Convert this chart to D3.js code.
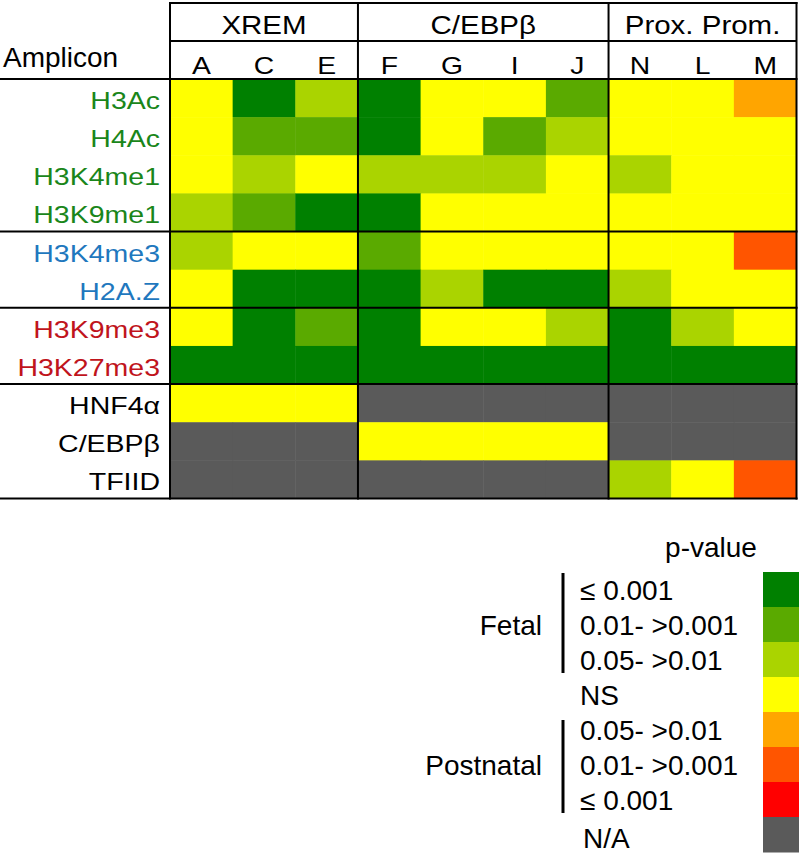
<!DOCTYPE html>
<html>
<head>
<meta charset="utf-8">
<script src="https://cdn.jsdelivr.net/npm/d3@7"></script>
<style>
  html, body { margin: 0; padding: 0; background: #fff; }
  svg { display: block; font-family: "Liberation Sans", Arial, Helvetica, sans-serif; }
</style>
</head>
<body>
<svg id="chart" width="799" height="854"></svg>
<script>
// ---------- data ----------
const columns = ["A", "C", "E", "F", "G", "I", "J", "N", "L", "M"];
const groupNames = ["XREM", "C/EBPβ", "Prox. Prom."];
const groupColumns = [["A", "C", "E"], ["F", "G", "I", "J"], ["N", "L", "M"]];
const rowNames = ["H3Ac", "H4Ac", "H3K4me1", "H3K9me1", "H3K4me3", "H2A.Z",
                  "H3K9me3", "H3K27me3", "HNF4α", "C/EBPβ", "TFIID"];
const rowGroups = ["green", "green", "green", "green", "blue", "blue", "red", "red", "black", "black", "black"];

// level codes: F3 = fetal ≤0.001, F2 = fetal 0.01->0.001, F1 = fetal 0.05->0.01,
// NS, P1/P2/P3 = postnatal, NA = not available
const H3Ac     = ["NS", "F3", "F1", "F3", "NS", "NS", "F2", "NS", "NS", "P1"];
const H4Ac     = ["NS", "F2", "F2", "F3", "NS", "F2", "F1", "NS", "NS", "NS"];
const H3K4me1  = ["NS", "F1", "NS", "F1", "F1", "F1", "NS", "F1", "NS", "NS"];
const H3K9me1  = ["F1", "F2", "F3", "F3", "NS", "NS", "NS", "NS", "NS", "NS"];
const H3K4me3  = ["F1", "NS", "NS", "F2", "NS", "NS", "NS", "NS", "NS", "P2"];
const H2AZ     = ["NS", "F3", "F3", "F3", "F1", "F3", "F3", "F1", "NS", "NS"];
const H3K9me3  = ["NS", "F3", "F2", "F3", "NS", "NS", "F1", "F3", "F1", "NS"];
const H3K27me3 = ["F3", "F3", "F3", "F3", "F3", "F3", "F3", "F3", "F3", "F3"];
const HNF4a    = ["NS", "NS", "NS", "NA", "NA", "NA", "NA", "NA", "NA", "NA"];
const CEBPb    = ["NA", "NA", "NA", "NS", "NS", "NS", "NS", "NA", "NA", "NA"];
const TFIID    = ["NA", "NA", "NA", "NA", "NA", "NA", "NA", "F1", "NS", "P2"];
const rowValues = [H3Ac, H4Ac, H3K4me1, H3K9me1, H3K4me3, H2AZ, H3K9me3, H3K27me3, HNF4a, CEBPb, TFIID];

const levelCodes  = ["F3", "F2", "F1", "NS", "P1", "P2", "P3", "NA"];
const levelLabels = ["≤ 0.001", "0.01- >0.001", "0.05- >0.01", "NS", "0.05- >0.01", "0.01- >0.001", "≤ 0.001", "N/A"];
const levelColors = ["#008000", "#5aaa00", "#aad400", "#ffff00", "#ffa500", "#ff5500", "#ff0000", "#5a5a5a"];
const labelColors = { green: "#1a861a", blue: "#1f78be", red: "#c0141c", black: "#000000" };

// ---------- layout ----------
const svg = d3.select("#chart");
const x = d3.scaleBand().domain(columns).range([170, 796.5]);
const y = d3.scaleBand().domain(rowNames).range([79, 498.5]);
const color = d3.scaleOrdinal().domain(levelCodes).range(levelColors);

const cells = [];
rowNames.forEach((r, i) => columns.forEach((c, j) => cells.push({ row: r, col: c, v: rowValues[i][j] })));

svg.append("g").selectAll("rect").data(cells).join("rect")
  .attr("x", d => x(d.col)).attr("y", d => y(d.row))
  .attr("width", x.bandwidth() + 0.5).attr("height", y.bandwidth() + 0.5)
  .attr("fill", d => color(d.v));

// row labels (horizontally stretched like the original)
const rl = svg.append("g").selectAll("g").data(rowNames).join("g")
  .attr("transform", (d) => `translate(160,${y(d) + y.bandwidth() / 2 + 11}) scale(1.24,1)`);
rl.append("text").attr("text-anchor", "end").attr("font-size", 23)
  .attr("fill", (d, i) => labelColors[rowGroups[i]]).text(d => d);

// "Amplicon"
svg.append("text").attr("x", 3).attr("y", 67).attr("font-size", 28).text("Amplicon");

// group headers
const groupCenter = g => (x(g[0]) + x(g[g.length - 1]) + x.bandwidth()) / 2;
svg.append("g").selectAll("g").data(groupNames).join("g")
  .attr("transform", (d, i) => `translate(${groupCenter(groupColumns[i])},34) scale(1.18,1)`)
  .append("text").attr("text-anchor", "middle").attr("font-size", 25).text(d => d);

// column headers
svg.append("g").selectAll("g").data(columns).join("g")
  .attr("transform", d => `translate(${x(d) + x.bandwidth() / 2},74) scale(1.18,1)`)
  .append("text").attr("text-anchor", "middle").attr("font-size", 24).text(d => d);

// grid lines
const lineG = svg.append("g").attr("stroke", "#000").attr("stroke-width", 2);
const x0 = x.range()[0], x1 = x.range()[1];
lineG.append("line").attr("x1", x0 - 1).attr("x2", x1 + 1).attr("y1", 3).attr("y2", 3);
lineG.append("line").attr("x1", x0).attr("x2", x1).attr("y1", 41).attr("y2", 41);
const hBreaks = ["H3Ac", "H3K4me3", "H3K9me3", "HNF4α"];
hBreaks.forEach(r => lineG.append("line").attr("x1", 0).attr("x2", x1 + 1).attr("y1", y(r)).attr("y2", y(r)));
lineG.append("line").attr("x1", 0).attr("x2", x1 + 1).attr("y1", y.range()[1]).attr("y2", y.range()[1]);
const vBreaks = groupColumns.map(g => x(g[0])).concat([x1]);
vBreaks.forEach(v => lineG.append("line").attr("x1", v).attr("x2", v).attr("y1", 2).attr("y2", y.range()[1] + 1));

// ---------- legend ----------
const ly = d3.scaleBand().domain(levelCodes).range([572, 852]);
const lg = svg.append("g");
lg.selectAll("rect").data(levelCodes).join("rect")
  .attr("x", 763).attr("y", d => ly(d)).attr("width", 37).attr("height", ly.bandwidth() + 0.5)
  .attr("fill", d => color(d));
lg.selectAll("text.lab").data(levelCodes).join("text").attr("class", "lab")
  .attr("x", d => d === "NA" ? 583 : 580)
  .attr("y", d => d === "NA" ? 848 : ly(d) + ly.bandwidth() / 2 + 10)
  .attr("font-size", 28).text((d, i) => levelLabels[i]);
lg.append("text").attr("x", 711).attr("y", 557).attr("text-anchor", "middle").attr("font-size", 28).text("p-value");
lg.append("text").attr("x", 542).attr("y", ly("F2") + ly.bandwidth() / 2 + 10).attr("text-anchor", "end").attr("font-size", 28).text("Fetal");
lg.append("text").attr("x", 542).attr("y", ly("P2") + ly.bandwidth() / 2 + 10).attr("text-anchor", "end").attr("font-size", 28).text("Postnatal");
lg.append("line").attr("x1", 563).attr("x2", 563).attr("y1", 573).attr("y2", 673).attr("stroke", "#000").attr("stroke-width", 3);
lg.append("line").attr("x1", 563).attr("x2", 563).attr("y1", 720).attr("y2", 813).attr("stroke", "#000").attr("stroke-width", 3);
</script>
</body>
</html>
